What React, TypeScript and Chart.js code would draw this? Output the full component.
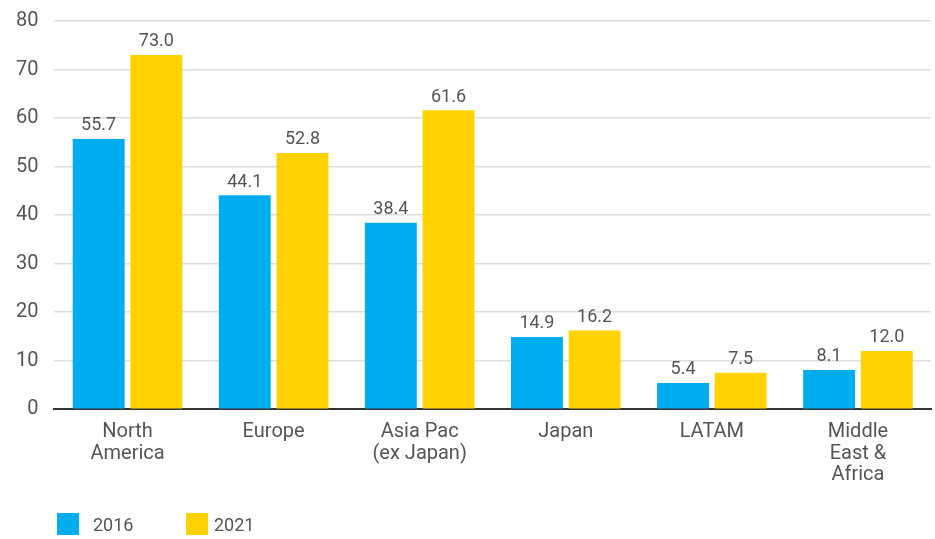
import React, { useEffect, useRef } from "react";
import { Chart, registerables } from "chart.js";

Chart.register(...registerables);

const categories: string[][] = [
  ["North", "America"],
  ["Europe"],
  ["Asia Pac", "(ex Japan)"],
  ["Japan"],
  ["LATAM"],
  ["Middle", "East &", "Africa"],
];
const series2016 = [55.7, 44.1, 38.4, 14.9, 5.4, 8.1];
const series2021 = [73.0, 52.8, 61.6, 16.2, 7.5, 12.0];
const seriesNames = ["2016", "2021"];
const yTicks = [0, 10, 20, 30, 40, 50, 60, 70, 80];

const BLUE = "#00AEEF";
const YELLOW = "#FFD200";
const TEXT = "#555555";
const FONT = "Roboto, 'Liberation Sans', sans-serif";

const valueLabels = {
  id: "valueLabels",
  afterDatasetsDraw(chart: any) {
    const ctx = chart.ctx;
    ctx.save();
    ctx.font = `18px ${FONT}`;
    ctx.fillStyle = TEXT;
    ctx.textAlign = "center";
    ctx.textBaseline = "bottom";
    chart.data.datasets.forEach((ds: any, di: number) => {
      const meta = chart.getDatasetMeta(di);
      meta.data.forEach((bar: any, i: number) => {
        const v = ds.data[i] as number;
        ctx.fillText(v.toFixed(1), bar.x, bar.y - 4);
      });
    });
    ctx.restore();
  },
};

export default function App() {
  const ref = useRef<HTMLCanvasElement | null>(null);
  useEffect(() => {
    document.body.style.margin = "0";
    const c = ref.current!;
    const chart = new Chart(c, {
      type: "bar",
      data: {
        labels: categories,
        datasets: [
          { label: seriesNames[0], data: series2016, backgroundColor: BLUE },
          { label: seriesNames[1], data: series2021, backgroundColor: YELLOW },
        ],
      },
      options: {
        animation: false,
        responsive: false,
        maintainAspectRatio: false,
        layout: { padding: { left: 0, right: 4, top: 21, bottom: 41 } },
        datasets: {
          bar: { categoryPercentage: 0.79, barPercentage: 0.9 },
        } as any,
        plugins: {
          legend: { display: false },
          tooltip: { enabled: false },
        },
        scales: {
          x: {
            grid: { display: false, drawTicks: false },
            border: { display: true, color: "#333333", width: 2 },
            ticks: {
              color: TEXT,
              font: { family: FONT, size: 20, lineHeight: 1.08 },
              padding: 12,
              maxRotation: 0,
              autoSkip: false,
            },
          },
          y: {
            min: 0,
            max: 80,
            afterBuildTicks: (axis: any) => {
              axis.ticks = yTicks.map((v) => ({ value: v }));
            },
            afterFit: (axis: any) => {
              axis.paddingTop = 0;
              axis.paddingBottom = 0;
            },
            grid: { color: "#dddddd", lineWidth: 1.5, drawTicks: false },
            border: { display: false },
            ticks: {
              color: TEXT,
              font: { family: FONT, size: 20, lineHeight: 1.0 },
              padding: 16,
            },
          },
        },
      },
      plugins: [valueLabels],
    });
    return () => chart.destroy();
  }, []);

  return (
    <div style={{ position: "relative", width: 935, height: 539, background: "#fff" }}>
      <canvas ref={ref} width={935} height={539} style={{ display: "block" }} />
      <div
        style={{
          position: "absolute",
          left: 57,
          top: 513,
          display: "flex",
          alignItems: "center",
          fontFamily: FONT,
          fontSize: 18,
          color: TEXT,
        }}
      >
        <span style={{ width: 22, height: 22, background: BLUE, display: "inline-block" }} />
        <span style={{ marginLeft: 14, width: 93 }}>{seriesNames[0]}</span>
        <span style={{ width: 22, height: 22, background: YELLOW, display: "inline-block" }} />
        <span style={{ marginLeft: 6 }}>{seriesNames[1]}</span>
      </div>
    </div>
  );
}
